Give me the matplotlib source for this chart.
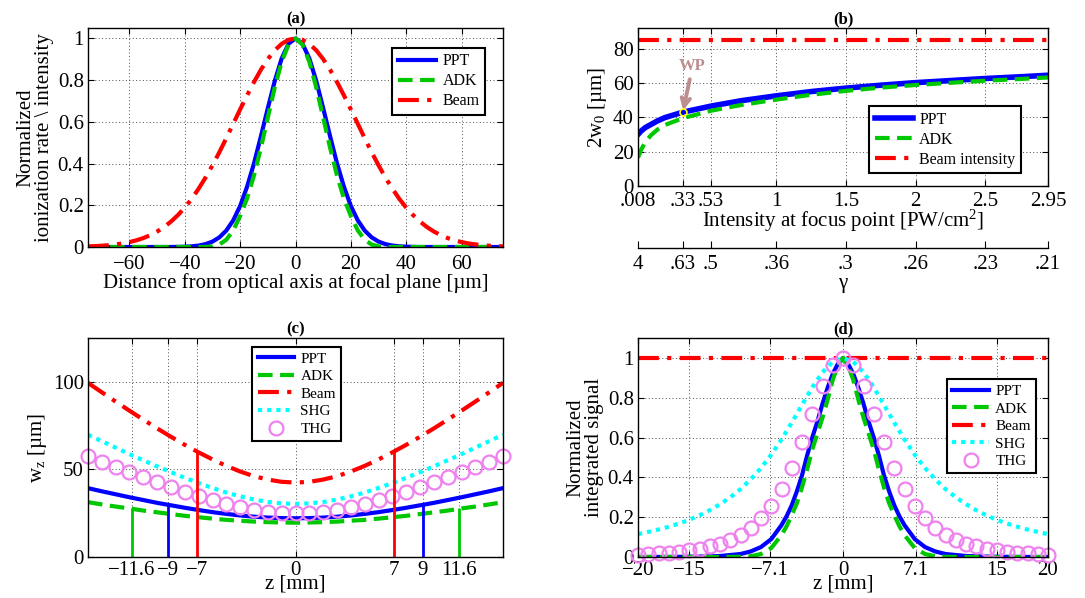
import matplotlib
matplotlib.use("Agg")
import matplotlib.pyplot as plt
import numpy as np

plt.rcParams['font.family'] = ['Liberation Serif', 'DejaVu Serif']
plt.rcParams['mathtext.fontset'] = 'custom'
plt.rcParams['mathtext.rm'] = 'Liberation Serif'
plt.rcParams['mathtext.default'] = 'regular'

# ---------------- (a) radial profile at focal plane ----------------
a_r = [0, 2.5, 5, 7.5, 10, 12.5, 15, 17.5, 20, 22.5, 25, 27.5, 30, 32.5, 35, 37.5,
       40, 42.5, 45, 47.5, 50, 52.5, 55, 57.5, 60, 62.5, 65, 67.5, 70, 72.5, 75]
a_ppt = [1, .975, .904, .796, .666, .531, .401, .289, .197, .128, .079, .0465, .026,
         .0138, .0069, .0033, .0015, .0007, 0, 0, 0, 0, 0, 0, 0, 0, 0, 0, 0, 0, 0]
a_adk = [1, .971, .888, .765, .621, .476, .343, .233, .149, .080, .035, .012, .003,
         0, 0, 0, 0, 0, 0, 0, 0, 0, 0, 0, 0, 0, 0, 0, 0, 0, 0]
a_beam = [1, .9935, .974, .943, .901, .850, .791, .727, .660, .591, .522, .455, .392,
          .333, .280, .231, .189, .153, .122, .0956, .0742, .0568, .0429, .0321,
          .0236, .0172, .0123, .0087, .0061, .0042, .0029]

# ---------------- (b) ionization diameter vs intensity ----------------
b_int = [.008, .03, .06, .1, .15, .2, .33, .53, .75, 1, 1.25, 1.5, 1.75, 2, 2.25, 2.5, 2.75, 2.95]
b_ppt = [30, 32, 34, 35.8, 38, 39.8, 43, 46.5, 49.7, 52.5, 55, 57, 58.7, 60.2, 61.4, 62.6, 63.6, 64.5]
b_adk = [16.5, 21, 25.5, 29.5, 33, 35.5, 39.5, 43.8, 47.2, 50.3, 53.1, 55.4, 57.3, 58.8, 60.1, 61.3, 62.3, 63.2]
b_beam = [85, 85]
b_ticks = [.008, .33, .53, 1, 1.5, 2, 2.5, 2.95]
b_ticklabels = ['.008', '.33', '.53', '1', '1.5', '2', '2.5', '2.95']
gamma_labels = ['4', '.63', '.5', '.36', '.3', '.26', '.23', '.21']
wp_point = (0.33, 43.2)

# ---------------- (c) beam radius along z ----------------
c_z = [0, .98, 1.96, 2.94, 3.92, 4.9, 5.88, 6.86, 7.84, 8.82, 9.8, 10.78, 11.76, 12.74, 13.72, 14.7]
c_beam = [42.5, 42.9, 44.2, 46.1, 48.8, 52.0, 55.7, 59.7, 64.0, 68.6, 73.4, 78.4, 83.5, 88.7, 94.0, 99.4]
c_shg = [30.3, 30.6, 31.4, 32.8, 34.6, 36.8, 39.4, 42.2, 45.2, 48.4, 51.7, 55.2, 58.7, 62.4, 66.1, 69.8]
c_thg = [25.0, 25.2, 25.9, 27.1, 28.5, 30.4, 32.4, 34.7, 37.2, 39.8, 42.6, 45.4, 48.3, 51.3, 54.3, 57.4]
c_ppt = [22.1, 22.2, 22.5, 23.0, 23.7, 24.6, 25.6, 26.8, 28.1, 29.5, 30.9, 32.5, 34.1, 35.8, 37.5, 39.3]
c_adk = [19.6, 19.7, 19.9, 20.2, 20.7, 21.2, 21.9, 22.7, 23.5, 24.5, 25.5, 26.5, 27.7, 28.8, 30.0, 31.3]
c_cut_z = [11.6, 9, 7]
c_cut_h = [27.7, 30.4, 60.3]
c_ticks = [-11.6, -9, -7, 0, 7, 9, 11.6]
c_ticklabels = ['\u221211.6', '\u22129', '\u22127', '0', '7', '9', '11.6']

# ---------------- (d) normalized integrated signal ----------------
d_z = [0, .5, 1, 1.5, 2, 2.5, 3, 3.5, 4, 4.5, 5, 5.5, 6, 7, 8, 9, 10, 12, 14, 17, 20]
d_ppt = [1, .97, .92, .85, .77, .68, .60, .51, .41, .33, .26, .205, .16, .09, .05, .028, .015, .005, .002, .0005, 0]
d_adk = [1, .96, .89, .79, .70, .62, .54, .44, .35, .27, .21, .155, .11, .045, .015, .004, .001, 0, 0, 0, 0]
d_zi = [0, 1, 2, 3, 4, 5, 6, 7, 8, 9, 10, 11, 12, 13, 14, 15, 16, 17, 18, 19, 20]
d_shg = [1, .981, .928, .852, .764, .675, .590, .514, .447, .390, .341, .300, .265, .235, .209,
         .187, .168, .152, .138, .126, .115]
d_thg = [1, .962, .858, .720, .576, .447, .340, .257, .194, .147, .112, .0865, .0672, .0528,
         .0419, .0335, .0271, .0221, .0181, .015, .0125]
d_beam = [1, 1]
d_ticks = [-20, -15, -7.1, 0, 7.1, 15, 20]
d_ticklabels = ['\u221220', '\u221215', '\u22127.1', '0', '7.1', '15', '20']


def mirror(xh, yh):
    x = [-v for v in xh[:0:-1]] + list(xh)
    y = list(yh[:0:-1]) + list(yh)
    return x, y


BLUE = '#0000ff'
GREEN = '#00c800'
RED = '#ff0000'
CYAN = '#00ffff'
VIOLET = '#ee82ee'
LW = 3
DASH = (3.5, 1.8)
DASHDOT = (5, 2, 1, 2)
DOT = (1, 1.2)
FS = 15
TFS = 12

W, H = 1085, 598
fig = plt.figure(figsize=(W / 100, H / 100), dpi=100)


def box(l, r, t, b):
    return [l / W, (H - b) / H, (r - l) / W, (b - t) / H]


def style(ax, xpad=4):
    ax.tick_params(direction='in', length=4, width=0.8, top=True, right=True,
                   labelsize=FS, pad=3)
    ax.tick_params(axis='x', pad=xpad)
    ax.grid(True, linestyle=(0, (1, 2.5)), color='0.3', linewidth=0.7)
    ax.set_axisbelow(True)
    for s in ax.spines.values():
        s.set_linewidth(1.0)


def legend(ax, **kw):
    lg = ax.legend(fancybox=False, framealpha=1, edgecolor='k', handlelength=2.4,
                   borderpad=0.35, labelspacing=0.25, handletextpad=0.4, borderaxespad=0, **kw)
    lg.get_frame().set_linewidth(1.5)
    return lg


# (a)
ax = fig.add_axes(box(88, 503, 28, 247))
x, y = mirror(a_r, a_ppt)
ax.plot(x, y, color=BLUE, lw=LW, label='PPT')
x, y = mirror(a_r, a_adk)
ax.plot(x, y, color=GREEN, lw=LW, dashes=DASH, label='ADK')
x, y = mirror(a_r, a_beam)
ax.plot(x, y, color=RED, lw=LW, dashes=DASHDOT, label='Beam')
ax.set_xlim(-75, 75)
ax.set_ylim(0, 1.05)
ax.set_xticks([-60, -40, -20, 0, 20, 40, 60])
ax.set_yticks([0, 0.2, 0.4, 0.6, 0.8, 1])
ax.set_yticklabels(['0', '0.2', '0.4', '0.6', '0.8', '1'])
style(ax, xpad=6)
ax.set_title('(a)', fontsize=TFS, fontweight='bold', pad=3)
ax.set_xlabel('Distance from optical axis at focal plane [\u00b5m]', fontsize=FS, labelpad=-1)
ax.set_ylabel('Normalized\nionization rate \\ intensity', fontsize=FS, labelpad=3, linespacing=0.95)
legend(ax, loc='upper right', bbox_to_anchor=(0.957, 0.91), fontsize=11.5)

# (b)
ax = fig.add_axes(box(638, 1048, 28, 186))
ax.plot(b_int, b_ppt, color=BLUE, lw=LW + 1, label='PPT')
ax.plot(b_int, b_adk, color=GREEN, lw=LW, dashes=DASH, label='ADK')
ax.plot([b_int[0], b_int[-1]], b_beam, color=RED, lw=LW, dashes=DASHDOT, label='Beam intensity')
ax.plot(*wp_point, 'o', mfc='none', mec='yellow', ms=5, mew=1.2)
ax.annotate('WP', xy=wp_point, xytext=(0.40, 70), ha='center', va='center',
            color='rosybrown', fontsize=12, fontweight='bold',
            arrowprops=dict(arrowstyle='->', color='rosybrown', lw=2.8, mutation_scale=15,
                            shrinkA=2, shrinkB=1))
ax.set_xlim(b_ticks[0], b_ticks[-1])
ax.set_ylim(0, 92)
ax.set_xticks(b_ticks)
ax.set_xticklabels(b_ticklabels)
ax.set_yticks([0, 20, 40, 60, 80])
style(ax, xpad=4)
ax.set_title('(b)', fontsize=TFS, fontweight='bold', pad=3)
ax.set_xlabel('Intensity at focus point [PW/cm$^2$]', fontsize=FS, labelpad=-2)
ax.set_ylabel('2w$_0$ [\u00b5m]', fontsize=FS, labelpad=3)
legend(ax, loc='upper right', bbox_to_anchor=(0.934, 0.506), fontsize=11.5)

# gamma axis below (b)
gx = fig.add_axes(box(638, 1048, 247, 248))
gx.set_xlim(b_ticks[0], b_ticks[-1])
gx.set_ylim(0, 1)
gx.set_yticks([])
for s in ['top', 'left', 'right']:
    gx.spines[s].set_visible(False)
gx.spines['bottom'].set_linewidth(1.0)
gx.patch.set_visible(False)
gx.set_xticks(b_ticks)
gx.set_xticklabels(gamma_labels)
gx.tick_params(direction='in', length=5, width=0.8, labelsize=FS, pad=5)
gx.set_xlabel('\u03b3', fontsize=FS, labelpad=0)

# (c)
ax = fig.add_axes(box(88, 503, 338, 557))
x, y = mirror(c_z, c_ppt)
ax.plot(x, y, color=BLUE, lw=LW, label='PPT')
x, y = mirror(c_z, c_adk)
ax.plot(x, y, color=GREEN, lw=LW, dashes=DASH, label='ADK')
x, y = mirror(c_z, c_beam)
ax.plot(x, y, color=RED, lw=LW, dashes=DASHDOT, label='Beam')
x, y = mirror(c_z, c_shg)
ax.plot(x, y, color=CYAN, lw=LW, dashes=DOT, label='SHG')
x, y = mirror(c_z, c_thg)
ax.plot(x, y, 'o', mfc='none', mec=VIOLET, ms=10, mew=1.6, label='THG', clip_on=False)
for zc, hc, col in zip(c_cut_z, c_cut_h, [GREEN, BLUE, RED]):
    ax.vlines([-zc, zc], 0, hc, colors=col, lw=2)
ax.set_xlim(-14.7, 14.7)
ax.set_ylim(0, 125)
ax.set_xticks(c_ticks)
ax.set_xticklabels(c_ticklabels)
ax.set_yticks([0, 50, 100])
style(ax, xpad=3)
ax.set_title('(c)', fontsize=TFS, fontweight='bold', pad=3)
ax.set_xlabel('z [mm]', fontsize=FS, labelpad=-4)
ax.set_ylabel('w$_z$ [\u00b5m]', fontsize=FS, labelpad=3)
legend(ax, loc='upper center', bbox_to_anchor=(0.503, 0.96), fontsize=11)

# (d)
ax = fig.add_axes(box(638, 1048, 338, 557))
x, y = mirror(d_z, d_ppt)
ax.plot(x, y, color=BLUE, lw=LW, label='PPT')
x, y = mirror(d_z, d_adk)
ax.plot(x, y, color=GREEN, lw=LW, dashes=DASH, label='ADK')
ax.plot([-20, 20], d_beam, color=RED, lw=LW, dashes=DASHDOT, label='Beam')
x, y = mirror(d_zi, d_shg)
ax.plot(x, y, color=CYAN, lw=LW, dashes=DOT, label='SHG')
x, y = mirror(d_zi, d_thg)
ax.plot(x, y, 'o', mfc='none', mec=VIOLET, ms=10, mew=1.6, label='THG', clip_on=False)
ax.set_xlim(-20, 20)
ax.set_ylim(0, 1.1)
ax.set_xticks(d_ticks)
ax.set_xticklabels(d_ticklabels)
ax.set_yticks([0, 0.2, 0.4, 0.6, 0.8, 1])
ax.set_yticklabels(['0', '0.2', '0.4', '0.6', '0.8', '1'])
style(ax, xpad=3)
ax.set_title('(d)', fontsize=TFS, fontweight='bold', pad=3)
ax.set_xlabel('z [mm]', fontsize=FS, labelpad=-4)
ax.set_ylabel('Normalized\nintegrated signal', fontsize=FS, labelpad=3, linespacing=0.95)
legend(ax, loc='upper right', bbox_to_anchor=(0.971, 0.813), fontsize=11)

fig.savefig('out.png', dpi=100)
